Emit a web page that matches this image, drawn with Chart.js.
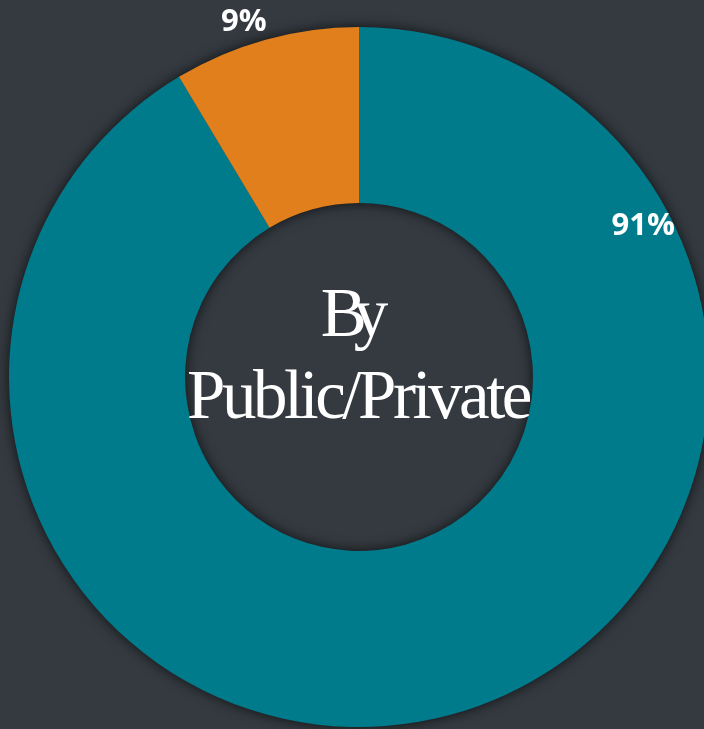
<!DOCTYPE html>
<html>
<head>
<meta charset="utf-8">
<script src="https://cdn.jsdelivr.net/npm/chart.js@4"></script>
<style>
    html, body { margin: 0; padding: 0; background: #343a40; overflow: hidden; }
    #wrap { width: 714px; height: 729px; }
</style>
</head>
<body>
<div id="wrap"><canvas id="sectorChart"></canvas></div>
<script>
const categories = ["Public", "Private"];
const shares = [91.4, 8.6];
const sliceColors = ["#007b8c", "#e07f1c"];
const centerLines = ["By", "Public/Private"];

// where each percentage label sits: angle clockwise from top (deg), distance from centre (px)
const labelSpots = [
    { angle: 62, dist: 322 },
    { angle: 342, dist: 373 },
];

const ringShadow = {
    id: "ringShadow",
    beforeDatasetsDraw(chart) {
        const arc = chart.getDatasetMeta(0).data[0];
        if (!arc) return;
        const ctx = chart.ctx;
        ctx.save();
        ctx.shadowColor = "rgba(0,0,0,0.8)";
        ctx.shadowBlur = 14;
        ctx.fillStyle = "#2a2f34";
        ctx.beginPath();
        ctx.arc(arc.x, arc.y, arc.outerRadius - 1, 0, Math.PI * 2);
        ctx.arc(arc.x, arc.y, arc.innerRadius + 1, 0, Math.PI * 2, true);
        ctx.fill();
        ctx.restore();
    },
};

const textBits = {
    id: "textBits",
    afterDatasetsDraw(chart) {
        const ctx = chart.ctx;
        const meta = chart.getDatasetMeta(0);
        const arc = meta.data[0];
        const total = shares.reduce((a, b) => a + b, 0);

        ctx.save();
        ctx.fillStyle = "#ffffff";
        ctx.textAlign = "center";
        ctx.textBaseline = "middle";
        ctx.font = "bold 31px 'Open Sans', sans-serif";
        shares.forEach((v, i) => {
            const spot = labelSpots[i];
            const a = (spot.angle * Math.PI) / 180;
            const x = arc.x + Math.sin(a) * spot.dist;
            const y = arc.y - Math.cos(a) * spot.dist;
            ctx.fillText(Math.round((v / total) * 100) + "%", x, y);
        });

        ctx.font = "69px 'Liberation Serif', 'Times New Roman', serif";
        ctx.textBaseline = "alphabetic";
        ctx.letterSpacing = "-13px";
        ctx.fillText(centerLines[0], arc.x - 11, arc.y - 41);
        ctx.letterSpacing = "-3.5px";
        ctx.fillText(centerLines[1], arc.x - 1, arc.y + 41);
        ctx.restore();
    },
};

new Chart(document.getElementById("sectorChart"), {
    type: "doughnut",
    data: {
        labels: categories,
        datasets: [
            {
                data: shares,
                backgroundColor: sliceColors,
                borderWidth: 0,
            },
        ],
    },
    options: {
        responsive: true,
        maintainAspectRatio: false,
        animation: false,
        cutout: "49.7%",
        layout: { padding: { left: 9, right: 5, top: 27, bottom: 2 } },
        plugins: {
            legend: { display: false },
            tooltip: { enabled: false },
        },
    },
    plugins: [ringShadow, textBits],
});
</script>
</body>
</html>
